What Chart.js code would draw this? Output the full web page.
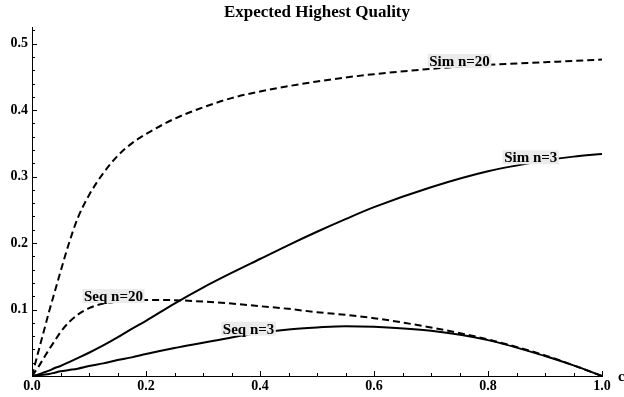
<!DOCTYPE html>
<html>
<head>
<meta charset="utf-8">
<script src="https://cdn.jsdelivr.net/npm/chart.js@4.4.1/dist/chart.umd.min.js"></script>
<style>
  html, body { margin: 0; padding: 0; background: #fff; }
  #wrap { width: 624px; height: 397px; }
</style>
</head>
<body>
<div id="wrap"><canvas id="qualityChart" width="624" height="397"></canvas></div>
<script>
// sample points along c (x axis)
const cValues = [0, 0.01, 0.02, 0.03, 0.04, 0.05, 0.065, 0.08, 0.1, 0.125, 0.15, 0.175, 0.2,
                 0.25, 0.3, 0.35, 0.4, 0.45, 0.5, 0.55, 0.6, 0.7, 0.8, 0.9, 0.95, 1.0];

// expected highest quality
const simN20 = [0, 0.033, 0.065, 0.097, 0.127, 0.157, 0.2, 0.237, 0.272, 0.305, 0.331, 0.35, 0.364,
                0.387, 0.404, 0.418, 0.428, 0.436, 0.443, 0.449, 0.454, 0.462, 0.468, 0.472, 0.474, 0.476];
const simN3 = [0, 0.002, 0.005, 0.008, 0.012, 0.015, 0.021, 0.027, 0.035, 0.046, 0.058, 0.071, 0.083,
               0.109, 0.133, 0.155, 0.176, 0.197, 0.217, 0.236, 0.254, 0.284, 0.308, 0.324, 0.33, 0.334];
const seqN20 = [0, 0.012, 0.026, 0.04, 0.053, 0.066, 0.081, 0.092, 0.102, 0.109, 0.112, 0.114, 0.1145,
                0.114, 0.112, 0.109, 0.105, 0.101, 0.096, 0.092, 0.087, 0.073, 0.055, 0.031, 0.016, 0];
const seqN3 = [0, 0.001, 0.002, 0.003, 0.005, 0.007, 0.009, 0.011, 0.015, 0.019, 0.024, 0.028, 0.033,
               0.042, 0.05, 0.058, 0.065, 0.07, 0.073, 0.075, 0.074, 0.068, 0.054, 0.03, 0.016, 0];

const seriesNames = ['Sim n=20', 'Sim n=3', 'Seq n=20', 'Seq n=3'];
const seriesDashed = [true, false, true, false];
// c value where each curve's label sits
const labelAt = [0.75, 0.875, 0.143, 0.38];

const xTicks = [0, 0.2, 0.4, 0.6, 0.8, 1.0];
const yTicks = [0.1, 0.2, 0.3, 0.4, 0.5];
const xMinorStep = 0.05;
const yMinorStep = 0.02;

const chartTitle = 'Expected Highest Quality';
const serif = "'Liberation Serif', 'DejaVu Serif', serif";

function valueAt(ys, c) {
    for (let i = 1; i < cValues.length; i++) {
        if (c <= cValues[i]) {
            const t = (c - cValues[i - 1]) / (cValues[i] - cValues[i - 1]);
            return ys[i - 1] + t * (ys[i] - ys[i - 1]);
        }
    }
    return ys[ys.length - 1];
}

// mathematica style ticks, pointing into the plot, plus title over the plot area
const axisTicks = {
    id: 'axisTicks',
    afterDraw(chart) {
        const {ctx, scales: {x, y}} = chart;
        ctx.save();
        ctx.strokeStyle = '#000';
        ctx.lineWidth = 1;
        const nx = Math.round((x.max - x.min) / xMinorStep);
        for (let i = 0; i <= nx; i++) {
            const v = x.min + i * xMinorStep;
            const major = xTicks.some(t => Math.abs(t - v) < 1e-9);
            const px = Math.round(x.getPixelForValue(v)) + 0.5;
            ctx.beginPath();
            ctx.moveTo(px, y.bottom);
            ctx.lineTo(px, y.bottom - (major ? 5 : 3));
            ctx.stroke();
        }
        const ny = Math.floor((y.max - y.min) / yMinorStep + 1e-9);
        for (let i = 1; i <= ny; i++) {
            const v = y.min + i * yMinorStep;
            const major = yTicks.some(t => Math.abs(t - v) < 1e-9);
            const py = Math.round(y.getPixelForValue(v)) + 0.5;
            ctx.beginPath();
            ctx.moveTo(x.left, py);
            ctx.lineTo(x.left + (major ? 5 : 3), py);
            ctx.stroke();
        }
        ctx.fillStyle = '#000';
        // axis label, cut off at the right edge
        ctx.font = 'bold 15px ' + serif;
        ctx.textAlign = 'left';
        ctx.textBaseline = 'middle';
        ctx.fillText('c', x.right + 16, y.bottom + 1);
        // title
        ctx.font = 'bold 17px ' + serif;
        ctx.textAlign = 'center';
        ctx.fillText(chartTitle, (x.left + x.right) / 2, 13);
        ctx.restore();
    }
};

// curve labels with grey background
const curveLabels = {
    id: 'curveLabels',
    afterDatasetsDraw(chart) {
        const {ctx, scales: {x, y}} = chart;
        ctx.save();
        ctx.font = 'bold 15px ' + serif;
        ctx.textAlign = 'center';
        ctx.textBaseline = 'middle';
        chart.data.datasets.forEach((ds, i) => {
            const c = labelAt[i];
            const ys = ds.data.map(p => p.y);
            const px = x.getPixelForValue(c);
            const py = y.getPixelForValue(valueAt(ys, c)) - 6;
            const w = ctx.measureText(ds.label).width + 3;
            ctx.fillStyle = '#ebebeb';
            ctx.fillRect(px - w / 2, py - 7, w, 14);
            ctx.fillStyle = '#000';
            ctx.fillText(ds.label, px, py + 1);
        });
        ctx.restore();
    }
};

const allSeries = [simN20, simN3, seqN20, seqN3];

new Chart(document.getElementById('qualityChart'), {
    type: 'line',
    data: {
        datasets: allSeries.map((ys, i) => ({
            label: seriesNames[i],
            data: cValues.map((c, j) => ({x: c, y: ys[j]})),
            borderColor: '#000',
            borderWidth: 2,
            borderDash: seriesDashed[i] ? [7, 4] : [],
            pointRadius: 0,
            fill: false,
            cubicInterpolationMode: 'monotone'
        }))
    },
    options: {
        responsive: false,
        animation: false,
        layout: {padding: {left: 0, right: 22, top: 27, bottom: 0}},
        plugins: {
            legend: {display: false},
            tooltip: {enabled: false},
            title: {display: false}
        },
        scales: {
            x: {
                type: 'linear',
                min: 0,
                max: 1,
                grid: {display: false, drawTicks: false},
                border: {display: true, color: '#000', width: 1},
                afterBuildTicks: s => { s.ticks = xTicks.map(v => ({value: v})); },
                afterFit: s => { s.height = 21; },
                ticks: {
                    color: '#000',
                    font: {family: serif, size: 14, weight: 'bold'},
                    padding: 2,
                    maxRotation: 0,
                    callback: v => Number(v).toFixed(1)
                }
            },
            y: {
                type: 'linear',
                min: 0,
                max: 0.525,
                grid: {display: false, drawTicks: false},
                border: {display: true, color: '#000', width: 1},
                afterBuildTicks: s => { s.ticks = yTicks.map(v => ({value: v})); },
                afterFit: s => { s.width = 32; },
                ticks: {
                    color: '#000',
                    font: {family: serif, size: 14, weight: 'bold'},
                    padding: 4,
                    callback: v => Number(v).toFixed(1)
                }
            }
        }
    },
    plugins: [axisTicks, curveLabels]
});
</script>
</body>
</html>
